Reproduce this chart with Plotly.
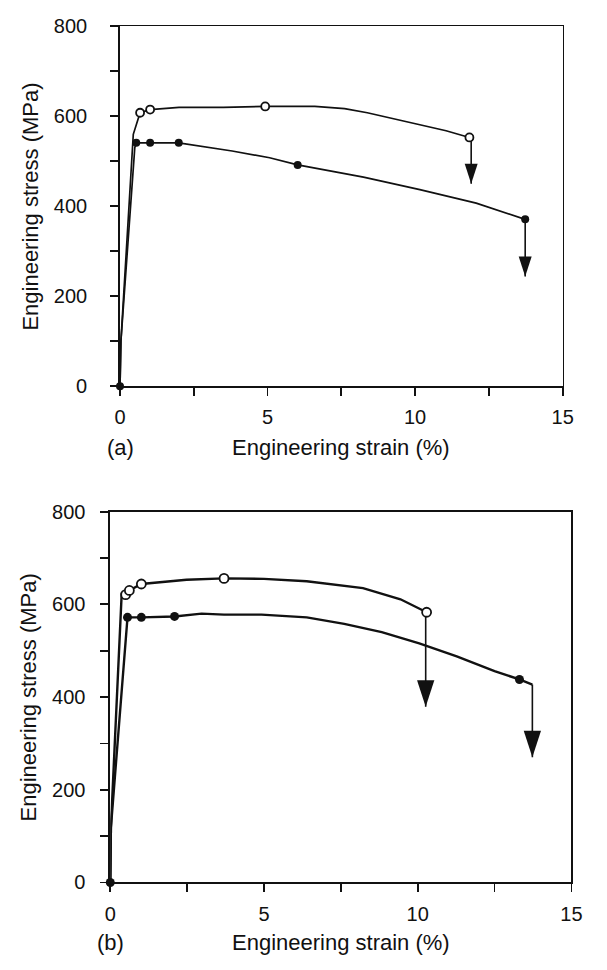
import plotly.graph_objects as go

# ---------------- Panel (a) data ----------------
a_open_line_x = [0, 0.03, 0.45, 0.68, 1.02, 2.0, 3.5, 4.92, 6.6, 7.61, 8.38, 9.27, 10.16, 11.05, 11.84]
a_open_line_y = [0, 100, 560, 608, 615, 620, 620, 622, 622, 617, 608, 595, 581, 568, 553]
a_open_pts_x = [0.68, 1.02, 4.92, 11.84]
a_open_pts_y = [608, 615, 622, 553]
a_filled_line_x = [0, 0.03, 0.5, 0.55, 1.02, 1.99, 3.8, 5.07, 6.02, 8.25, 10.16, 12.07, 13.73]
a_filled_line_y = [0, 100, 530, 541, 541, 541, 523, 508, 492, 465, 437, 407, 371]
a_filled_pts_x = [0, 0.55, 1.02, 1.99, 6.02, 13.73]
a_filled_pts_y = [0, 541, 541, 541, 492, 371]
a_arrow_x = [11.9, 13.73]
a_arrow_from = [553, 371]
a_arrow_tip = [450, 244]

# ---------------- Panel (b) data ----------------
b_open_line_x = [0, 0.02, 0.37, 0.5, 0.62, 1.01, 2.48, 3.70, 5.0, 6.39, 8.22, 9.44, 10.29]
b_open_line_y = [0, 119, 622, 621, 630, 644, 653, 656, 655, 650, 635, 611, 583]
b_open_pts_x = [0.5, 0.62, 1.01, 3.70, 10.29]
b_open_pts_y = [621, 630, 644, 656, 583]
b_filled_line_x = [0, 0.02, 0.56, 1.01, 2.09, 2.97, 3.7, 4.92, 6.39, 7.61, 8.83, 10.05, 11.27, 12.5, 13.31, 13.73]
b_filled_line_y = [0, 119, 572, 572, 574, 580, 578, 578, 572, 558, 540, 516, 488, 456, 438, 427]
b_filled_pts_x = [0, 0.56, 1.01, 2.09, 13.31]
b_filled_pts_y = [0, 572, 572, 574, 438]
b_arrow_x = [10.26, 13.73]
b_arrow_from = [583, 427]
b_arrow_tip = [379, 270]

# ---------------- Axis ticks / labels ----------------
x_tickvals = [0, 2.5, 5, 7.5, 10, 12.5, 15]
x_ticktext = ["0", "", "5", "", "10", "", "15"]
y_tickvals = [0, 100, 200, 300, 400, 500, 600, 700, 800]
y_ticktext = ["0", "", "200", "", "400", "", "600", "", "800"]
x_title = "Engineering strain (%)"
y_title = "Engineering stress (MPa)"
panel_labels = ["(a)", "(b)"]

W, H = 607, 970
FONT = "Liberation Sans, Arial, Helvetica, sans-serif"
INK = "#111111"

fig = go.Figure()


def add_panel(xa, ya, open_lx, open_ly, open_px, open_py, fill_lx, fill_ly,
              fill_px, fill_py, arr_x, arr_from, arr_tip, lw, msize, head):
    xr, yr = xa.replace("axis", ""), ya.replace("axis", "")
    common = dict(xaxis=xr, yaxis=yr, showlegend=False, hoverinfo="skip")
    fig.add_trace(go.Scatter(x=open_lx, y=open_ly, mode="lines",
                             line=dict(color=INK, width=lw), **common))
    fig.add_trace(go.Scatter(x=fill_lx, y=fill_ly, mode="lines",
                             line=dict(color=INK, width=lw), **common))
    for xx, y0, y1 in zip(arr_x, arr_from, arr_tip):
        fig.add_trace(go.Scatter(x=[xx, xx], y=[y0, y1], mode="lines",
                                 line=dict(color=INK, width=1.6), **common))
    fig.add_trace(go.Scatter(x=arr_x, y=arr_tip, mode="markers", cliponaxis=False,
                             marker=dict(symbol="arrow", angle=180, size=head,
                                         color=INK, line=dict(width=0)), **common))
    fig.add_trace(go.Scatter(x=open_px, y=open_py, mode="markers", cliponaxis=False,
                             marker=dict(symbol="circle", size=msize, color="white",
                                         line=dict(color=INK, width=1.8)), **common))
    fig.add_trace(go.Scatter(x=fill_px, y=fill_py, mode="markers", cliponaxis=False,
                             marker=dict(symbol="circle", size=msize, color=INK,
                                         line=dict(width=0)), **common))


add_panel("xaxis", "yaxis", a_open_line_x, a_open_line_y, a_open_pts_x, a_open_pts_y,
          a_filled_line_x, a_filled_line_y, a_filled_pts_x, a_filled_pts_y,
          a_arrow_x, a_arrow_from, a_arrow_tip, 1.7, 8, 21)
add_panel("xaxis2", "yaxis2", b_open_line_x, b_open_line_y, b_open_pts_x, b_open_pts_y,
          b_filled_line_x, b_filled_line_y, b_filled_pts_x, b_filled_pts_y,
          b_arrow_x, b_arrow_from, b_arrow_tip, 2.4, 9, 28)

# pixel geometry of the two plot boxes (left, right, top, bottom)
boxes = [(117.3, 572.7, 15.7, 384.0), (107.3, 581.7, 512.3, 891.7)]
ylab_standoff = [19, 11]
xlab_standoff = [4, 5]

axis_common = dict(showline=True, linecolor=INK, linewidth=1.8, mirror=True,
                   ticks="outside", ticklen=8, tickwidth=1.8, tickcolor=INK,
                   showgrid=False, zeroline=False, fixedrange=True,
                   tickfont=dict(family=FONT, size=20, color=INK))

annotations = []
for i, (l, r, t, b) in enumerate(boxes):
    sx = "" if i == 0 else "2"
    xdom = [l / W, r / W]
    ydom = [1 - b / H, 1 - t / H]
    fig.update_layout(**{
        "xaxis" + sx: dict(domain=xdom, range=[0, 15], anchor="y" + sx,
                           tickmode="array", tickvals=x_tickvals, ticktext=x_ticktext,
                           ticklabelstandoff=xlab_standoff[i], **axis_common),
        "yaxis" + sx: dict(domain=ydom, range=[0, 800], anchor="x" + sx,
                           tickmode="array", tickvals=y_tickvals, ticktext=y_ticktext,
                           ticklabelstandoff=ylab_standoff[i], **axis_common),
    })
    title_y = b + (63 if i == 0 else 61)
    annotations.append(dict(text=x_title, xref="paper", yref="paper",
                            x=(l + r) / 2 / W, y=1 - title_y / H,
                            xanchor="center", yanchor="middle", showarrow=False,
                            font=dict(family=FONT, size=22, color=INK)))
    annotations.append(dict(text=panel_labels[i], xref="paper", yref="paper",
                            x=(l + 0.5) / W, y=1 - title_y / H,
                            xanchor="center", yanchor="middle", showarrow=False,
                            font=dict(family=FONT, size=22, color=INK)))
    annotations.append(dict(text=y_title, xref="paper", yref="paper",
                            x=(25 if i == 0 else 23) / W, y=1 - (t + b) / 2 / H,
                            xanchor="center", yanchor="middle", textangle=-90,
                            showarrow=False,
                            font=dict(family=FONT, size=22, color=INK)))

fig.update_layout(width=W, height=H, margin=dict(l=0, r=0, t=0, b=0),
                  paper_bgcolor="white", plot_bgcolor="white",
                  showlegend=False, annotations=annotations)

fig.write_html("out.html",
               config={"displayModeBar": False, "staticPlot": True},
               post_script="document.body.style.margin='0px';"
                           "document.body.style.overflow='hidden';")
